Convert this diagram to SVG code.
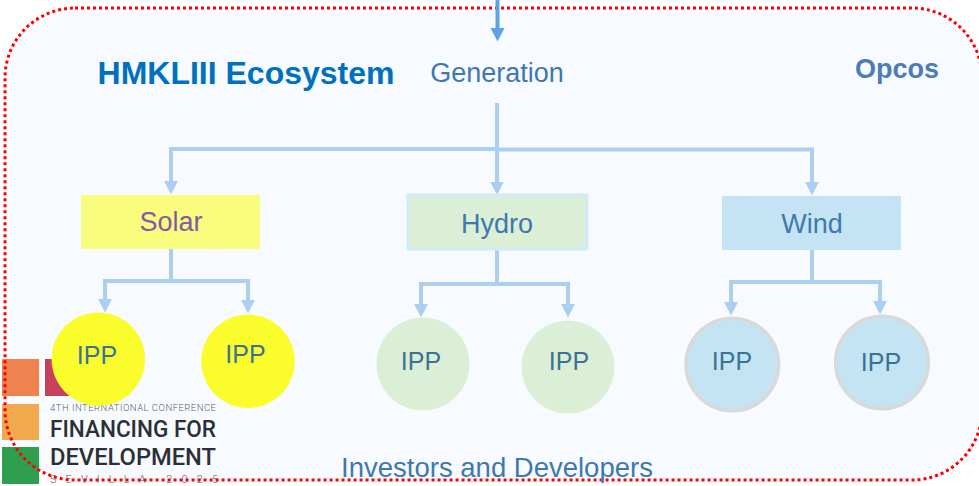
<svg xmlns="http://www.w3.org/2000/svg" width="979" height="486" viewBox="0 0 979 486">
<defs>
<marker id="ah" markerUnits="userSpaceOnUse" markerWidth="15" markerHeight="15" refX="3" refY="7.5" orient="auto"><path d="M0,0.5 L13.5,7.5 L0,14.5 Z" fill="#accff0"/></marker>
<marker id="ad" markerUnits="userSpaceOnUse" markerWidth="15" markerHeight="15" refX="3" refY="7.5" orient="auto"><path d="M0,0.5 L13.5,7.5 L0,14.5 Z" fill="#5fa2e2"/></marker>
</defs>
<style>
text{font-family:"Liberation Sans",Arial,sans-serif}
.l{font-size:27px;text-anchor:middle;fill:#3f78b0}
.i{font-size:25px;text-anchor:middle;fill:#3a7396}
.c{fill:none;stroke:#accff0;stroke-width:4}
.m{fill:#fafc2b}
.g{fill:#dbefd6}
.b{fill:#c5e4f3;stroke:#d9d9d9;stroke-width:3.5}
.lg{font-family:Roboto,"Liberation Sans",sans-serif;fill:#2b2f36}
</style>
<rect width="979" height="486" fill="#fff"/>
<rect x="5" y="8" width="977" height="472" rx="70" ry="70" fill="#f7fbff"/>
<g id="logo">
<rect x="2" y="359" width="37" height="37" fill="#ee8350"/>
<rect x="45" y="359" width="37" height="37" fill="#c8405c"/>
<rect x="2" y="404" width="37" height="36" fill="#f2a94d"/>
<rect x="2" y="447" width="37" height="37" fill="#2f9e4e"/>
<text class="lg" x="50" y="411" font-size="9.5" font-weight="300" textLength="166" fill-opacity="0.8">4TH INTERNATIONAL CONFERENCE</text>
<text class="lg" x="50" y="437" font-size="24" font-weight="500" textLength="166" lengthAdjust="spacingAndGlyphs">FINANCING FOR</text>
<text class="lg" x="50" y="465" font-size="24" font-weight="500" textLength="166" lengthAdjust="spacingAndGlyphs">DEVELOPMENT</text>
<text class="lg" x="50" y="483" font-size="11" font-weight="300" textLength="168" fill-opacity="0.8">SEVILLA 2025</text>
</g>
<rect x="5" y="8" width="977" height="472" rx="70" ry="70" fill="none" stroke="#f00" stroke-width="3" stroke-dasharray="3 3"/>
<g id="connectors">
<path d="M497.5,0 V31" fill="none" stroke="#5fa2e2" stroke-width="4" marker-end="url(#ad)"/>
<path class="c" d="M497,103 V184.500" marker-end="url(#ah)"/>
<path class="c" d="M497,149 H171 V184" marker-end="url(#ah)"/>
<path class="c" d="M497,149.500 H812 V185" marker-end="url(#ah)"/>
<path class="c" d="M171,249 V281 H105 V302" marker-end="url(#ah)"/>
<path class="c" d="M171,281 H248 V303" marker-end="url(#ah)"/>
<path class="c" d="M497,250 V284 H421 V307" marker-end="url(#ah)"/>
<path class="c" d="M497,284 H568 V307" marker-end="url(#ah)"/>
<path class="c" d="M812,250 V282 H731 V305" marker-end="url(#ah)"/>
<path class="c" d="M812,282 H880 V304" marker-end="url(#ah)"/>
</g>
<g id="title"><text x="246" y="84" font-size="32" font-weight="700" text-anchor="middle" fill="#0070c0">HMKLIII Ecosystem</text></g>
<g id="generation"><text class="l" x="497" y="82">Generation</text></g>
<g id="opcos"><text x="897" y="78" font-size="27" font-weight="700" text-anchor="middle" fill="#4a7db5">Opcos</text></g>
<g id="solar"><rect x="81" y="195" width="179" height="54" fill="#fafc7d"/><text x="171" y="231" font-size="27" text-anchor="middle" fill="#8457ac">Solar</text></g>
<g id="hydro"><rect x="408" y="195" width="179" height="54" fill="#dbefd6" stroke="#cfeaf8" stroke-width="3"/><text class="l" x="497" y="233">Hydro</text></g>
<g id="wind"><rect x="722" y="196" width="179" height="54" fill="#c5e4f3"/><text class="l" x="812" y="233">Wind</text></g>
<g id="ipp1"><circle class="m" cx="98.300" cy="359.200" r="46.700"/><text class="i" x="97" y="364">IPP</text></g>
<g id="ipp2"><circle class="m" cx="248" cy="361.300" r="46.700"/><text class="i" x="245.500" y="363">IPP</text></g>
<g id="ipp3"><circle class="g" cx="423" cy="364" r="46.500"/><text class="i" x="421" y="370">IPP</text></g>
<g id="ipp4"><circle class="g" cx="568" cy="367" r="46.500"/><text class="i" x="569" y="370">IPP</text></g>
<g id="ipp5"><circle class="b" cx="732.300" cy="364.500" r="46.300"/><text class="i" x="732" y="370">IPP</text></g>
<g id="ipp6"><circle class="b" cx="882" cy="362.500" r="46.300"/><text class="i" x="881" y="371">IPP</text></g>
<g id="investors"><text x="497" y="477" font-size="27.500" text-anchor="middle" fill="#3f78b0">Investors and Developers</text></g>
</svg>
